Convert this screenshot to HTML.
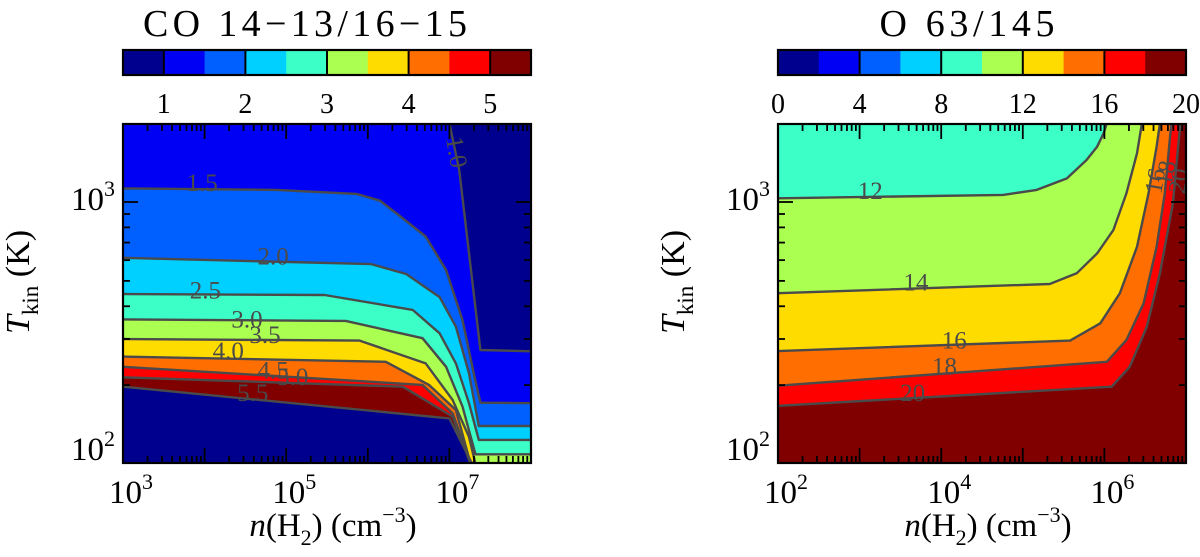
<!DOCTYPE html>
<html><head><meta charset="utf-8"><style>
html,body{margin:0;padding:0;background:#fff;}
svg{display:block;font-family:"Liberation Serif",serif;}
</style></head><body>
<svg id="fig" width="1200" height="557" viewBox="0 0 1200 557" xmlns="http://www.w3.org/2000/svg">
<g id="left"></g>
<g id="right"></g>
</svg>
<script>
// ---- Data (log10 n, log10 T) ----
const jetColors = ["#00008f","#0000f5","#0060ff","#00d0ff","#3cffc8","#aaff50","#ffdc00","#ff6e00","#ff0000","#800000"];
// Left panel: CO 14-13/16-15
const coLevels = ["1.0","1.5","2.0","2.5","3.0","3.5","4.0","4.5","5.0","5.5"];
const coFill = ["#0000f5","#0060ff","#00d0ff","#3cffc8","#aaff50","#ffdc00","#ff6e00","#ff0000","#800000","#00008f"];
const co10 = [[7.00,3.30],[7.12,3.122],[7.38,2.435],[8.0,2.43]];
const co15 = [[3.0,3.052],[4.88,3.046],[5.86,3.031],[6.15,3.005],[6.40,2.945],[6.71,2.868],[6.96,2.740],[7.16,2.549],[7.32,2.315],[7.38,2.234],[8.0,2.232]];
const co20 = [[3.0,2.787],[6.04,2.763],[6.47,2.725],[6.88,2.637],[7.08,2.524],[7.24,2.346],[7.36,2.145],[8.0,2.145]];
const co25 = [[3.0,2.649],[5.47,2.645],[6.55,2.588],[6.88,2.499],[7.08,2.384],[7.24,2.232],[7.36,2.092],[8.0,2.092]];
const co30 = [[3.0,2.552],[5.73,2.546],[6.67,2.480],[6.96,2.371],[7.16,2.219],[7.32,2.037],[8.0,2.037]];
const co35 = [[3.0,2.477],[5.90,2.471],[6.71,2.384],[7.04,2.244],[7.24,2.104],[7.32,2.0]];
const co40 = [[3.0,2.410],[6.22,2.390],[6.75,2.302],[7.08,2.206],[7.26,2.0]];
const co45 = [[3.0,2.371],[6.67,2.302],[7.04,2.193],[7.26,2.0]];
const co50 = [[3.0,2.331],[6.43,2.295],[7.04,2.181],[7.26,2.0]];
const co55 = [[3.0,2.295],[7.00,2.174],[7.28,2.0]];
const coLabelPos = [[7.08,3.19,80],[3.97,3.07,0],[4.84,2.79,0],[4.01,2.66,0],[4.52,2.55,0],[4.74,2.49,0],[4.29,2.43,0],[4.84,2.355,0],[5.08,2.33,0],[4.59,2.27,0]];
// Right panel: O 63/145
const oLevels = ["12","14","16","18","20"];
const oFill = ["#aaff50","#ffdc00","#ff6e00","#ff0000","#800000"];
const o12 = [[2.0,3.014],[4.76,3.027],[5.17,3.046],[5.54,3.090],[5.78,3.160],[5.91,3.211],[5.99,3.262],[6.03,3.30]];
const o14 = [[2.0,2.652],[5.33,2.687],[5.66,2.728],[5.91,2.804],[6.11,2.893],[6.27,3.033],[6.40,3.186],[6.46,3.30]];
const o16 = [[2.0,2.431],[5.58,2.471],[5.95,2.537],[6.19,2.652],[6.40,2.829],[6.54,3.033],[6.64,3.211],[6.68,3.30]];
const o18 = [[2.0,2.299],[6.03,2.39],[6.27,2.473],[6.48,2.613],[6.64,2.829],[6.74,3.033],[6.82,3.30]];
const o20 = [[2.0,2.222],[6.09,2.295],[6.31,2.371],[6.52,2.524],[6.68,2.728],[6.84,2.995],[6.93,3.30]];
const oLabelPos = [[3.13,3.04,0],[3.69,2.69,0],[4.16,2.47,0],[4.04,2.37,0],[3.65,2.27,0]];
const oLabelPos2 = [[6.63,3.08,-80],[6.76,3.11,-80],[6.92,3.08,-80]];
const coTicks = ["1","2","3","4","5"];
const coTickVals = [1,2,3,4,5];
const oTicks = ["0","4","8","12","16","20"];
const oTickVals = [0,4,8,12,16,20];

const NS="http://www.w3.org/2000/svg";
function mk(tag, attrs, parent){const e=document.createElementNS(NS,tag);for(const k in attrs)e.setAttribute(k,attrs[k]);parent.appendChild(e);return e;}

function panel(gid, cfg){
  const g=document.getElementById(gid);
  const X0=cfg.x0, X1=cfg.x0+408, Y0=124, Y1=463;
  const xs = v => X0 + (v-cfg.xmin)*(408/(cfg.xmax-cfg.xmin));
  const ys = v => 202 - (v-3)*262;
  const cs = v => X0 + (v-cfg.cmin)*(408/(cfg.cmax-cfg.cmin));
  const P = pts => pts.map(p=>xs(p[0]).toFixed(1)+","+ys(p[1]).toFixed(1)).join(" ");
  const cp=mk("clipPath",{id:gid+"clip"},g); mk("rect",{x:X0,y:Y0,width:408,height:Y1-Y0},cp);
  const pg=mk("g",{"clip-path":"url(#"+gid+"clip)"},g);
  
  
  const bg=mk("rect",{x:X0,y:Y0,width:408,height:Y1-Y0,fill:cfg.bg},pg);
  
  
  cfg.contours.forEach((c,i)=>{
    let pts=c.slice();
    const last=pts[pts.length-1], first=pts[0];
    let poly;
    if(first[1]>=3.29){ poly=[[cfg.xmin,3.3]].concat(pts).concat([[cfg.xmax,3.3],[cfg.xmax,1.9],[cfg.xmin,1.9]]); if(cfg.rightBelow){poly=pts.concat([[cfg.xmax,3.3],[cfg.xmax,1.9],[cfg.xmin,1.9]]);} }
    else if(last[1]<=2.0001){ poly=pts.concat([[last[0],1.9],[cfg.xmin,1.9]]); }
    else { poly=pts.concat([[cfg.xmax,last[1]],[cfg.xmax,1.9],[cfg.xmin,1.9]]); }
    const e=mk("polygon",{points:P(poly),fill:cfg.fills[i]},pg);
    
    
  });
  cfg.contours.forEach((c,i)=>{
    const e=mk("polyline",{points:P(c),fill:"none",stroke:"#4a4a4a","stroke-width":2.4,"stroke-linejoin":"round"},pg);
    
    
  });
  cfg.labels.forEach(l=>{
    const x=xs(l[0]), y=ys(l[1]);
    const t=mk("text",{x:x,y:y,"font-size":25,fill:"#4a4a4a","text-anchor":"middle","dominant-baseline":"central",transform:"rotate("+l[2]+" "+x+" "+y+")"},pg);
    t.textContent=l[3];
    
    
  });
  const fr=mk("rect",{x:X0,y:Y0,width:408,height:Y1-Y0,fill:"none",stroke:"#000","stroke-width":2.2},g);
  
  
  for(let d=cfg.xmin; d<cfg.xmax+0.001; d++){
    for(let m=1;m<10;m++){
      const v=d+Math.log10(m); if(v>cfg.xmax+0.001) break;
      const L=m==1?15:7, x=xs(v);
      mk("line",{x1:x,y1:Y1,x2:x,y2:Y1-L,stroke:"#000","stroke-width":1.8},g);
      mk("line",{x1:x,y1:Y0,x2:x,y2:Y0+L,stroke:"#000","stroke-width":1.8},g);
    }
  }
  cfg.xlabels.forEach(d=>{
    const t=mk("text",{x:xs(d)+8,y:503,"font-size":33,"text-anchor":"middle"},g);
    t.innerHTML='10<tspan font-size="22" dy="-14">'+d+'</tspan>';
    
    
  });
  for(let d=1; d<4; d++){
    for(let m=1;m<10;m++){
      const v=d+Math.log10(m); const y=ys(v); if(y<Y0||y>Y1+0.5) continue;
      const L=m==1?15:7;
      mk("line",{x1:X0,y1:y,x2:X0+L,y2:y,stroke:"#000","stroke-width":1.8},g);
      mk("line",{x1:X1,y1:y,x2:X1-L,y2:y,stroke:"#000","stroke-width":1.8},g);
    }
  }
  [[3,210],[2,460]].forEach(a=>{
    const t=mk("text",{x:X0-8,y:a[1],"font-size":33,"text-anchor":"end"},g);
    t.innerHTML='10<tspan font-size="22" dy="-14">'+a[0]+'</tspan>';
    
    
  });
  const xt=mk("text",{x:X0+210,y:536,"font-size":33,"text-anchor":"middle"},g);
  xt.innerHTML='<tspan font-style="italic">n</tspan>(H<tspan font-size="22" dy="9">2</tspan><tspan dy="-9">)  (cm</tspan><tspan font-size="22" dy="-14">−3</tspan><tspan dy="14">)</tspan>';
  
  
  const yt=mk("text",{x:0,y:0,"font-size":34,"text-anchor":"middle",transform:"translate("+(X0-94)+",282) rotate(-90)"},g);
  yt.innerHTML='<tspan font-style="italic">T</tspan><tspan font-size="23" dy="9">kin</tspan><tspan dy="-9"> (K)</tspan>';
  
  
  const cb=mk("g",{},g);
  
  
  jetColors.forEach((c,i)=>{
    mk("rect",{x:X0+i*40.8,y:50,width:41.3,height:25,fill:c},cb);
  });
  cfg.ctickVals.forEach((v,i)=>{
    const x=cs(v);
    if(x>X0+2&&x<X1-2) mk("line",{x1:x,y1:50,x2:x,y2:75,stroke:"#000","stroke-width":2},cb);
    const t=mk("text",{x:x,y:113,"font-size":28,"text-anchor":"middle"},cb);
    t.textContent=cfg.cticks[i];
    
    
  });
  mk("rect",{x:X0,y:50,width:408,height:25,fill:"none",stroke:"#000","stroke-width":2.2},cb);
  const ti=mk("text",{x:cfg.tx,y:36,"font-size":38,"text-anchor":"middle",textLength:cfg.tw,lengthAdjust:"spacing"},g);
  ti.textContent=cfg.title;
  
  
}

panel("left",{x0:123,xmin:3,xmax:8,cmin:0.5,cmax:5.5,bg:"#00008f",
  contours:[co10,co15,co20,co25,co30,co35,co40,co45,co50,co55],fills:coFill,
  labels:coLabelPos.map((p,i)=>[p[0],p[1],p[2],coLevels[i]]),
  xlabels:[3,5,7],cticks:coTicks,ctickVals:coTickVals,title:"CO 14−13/16−15",tx:305,tw:324});
panel("right",{x0:778,xmin:2,xmax:7,cmin:0,cmax:20,bg:"#3cffc8",rightBelow:true,
  contours:[o12,o14,o16,o18,o20],fills:oFill,
  labels:oLabelPos.map((p,i)=>[p[0],p[1],p[2],oLevels[i]]).concat(oLabelPos2.map((p,i)=>[p[0],p[1],p[2],oLevels[i+2]])),
  xlabels:[2,4,6],cticks:oTicks,ctickVals:oTickVals,title:"O 63/145",tx:967,tw:175});
</script>
</body></html>
